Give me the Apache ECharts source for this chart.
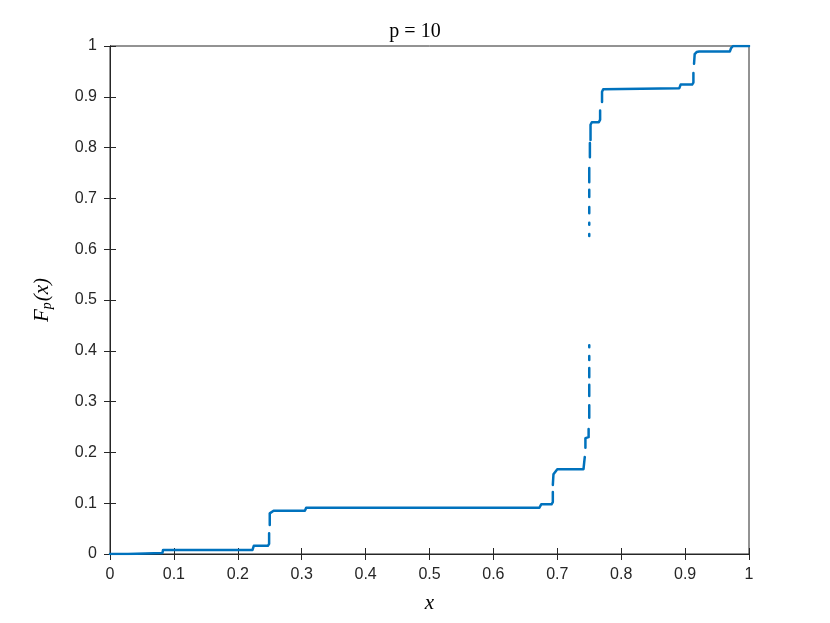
<!DOCTYPE html>
<html>
<head>
<meta charset="utf-8">
<script src="https://cdn.jsdelivr.net/npm/echarts@6/dist/echarts.min.js"></script>
<style>html,body{margin:0;padding:0;background:#fff;}#c{width:830px;height:623px;}</style>
</head>
<body>
<div id="c"></div>
<script>
// Curve samples (null = gap in the drawn curve)
var xs = [0,0.028,0.029,0.082,0.083,0.223,0.225,0.247,0.249,0.249,null,
  0.250,0.250,0.252,0.256,0.305,0.307,0.672,0.675,0.691,0.693,0.693,null,
  0.693,0.694,0.697,0.700,0.741,0.743,0.743,null,
  0.744,0.744,0.746,0.749,0.749,null,
  0.750,0.750,null,0.750,0.750,null,0.750,0.750,null,0.750,0.750,null,0.750,0.750,null,
  0.750,0.750,null,0.750,0.750,null,0.750,0.750,null,0.750,0.750,null,0.750,0.750,null,
  0.751,0.751,null,
  0.752,0.752,0.754,0.765,0.767,0.767,null,
  0.770,0.770,0.772,0.775,0.891,0.893,0.911,0.913,0.913,null,
  0.914,0.915,0.918,0.922,0.970,0.972,0.975,1.0];
var ys = [0,0,0.002,0.002,0.008,0.008,0.016,0.016,0.020,0.041,null,
  0.057,0.080,0.083,0.085,0.085,0.091,0.091,0.098,0.098,0.102,0.122,null,
  0.136,0.157,0.162,0.167,0.167,0.169,0.191,null,
  0.209,0.228,0.230,0.230,0.246,null,
  0.268,0.293,null,0.311,0.333,null,0.348,0.366,null,0.382,0.390,null,0.407,0.411,null,
  0.626,0.630,null,0.648,0.652,null,0.671,0.683,null,0.703,0.717,null,0.732,0.760,null,
  0.781,0.809,null,
  0.815,0.845,0.850,0.850,0.855,0.873,null,
  0.890,0.910,0.915,0.917,0.917,0.924,0.924,0.928,0.947,null,
  0.965,0.984,0.988,0.989,0.989,0.996,1.0,1.0];
var xTicks = [0,0.1,0.2,0.3,0.4,0.5,0.6,0.7,0.8,0.9,1];
var yTicks = [0,0.1,0.2,0.3,0.4,0.5,0.6,0.7,0.8,0.9,1];
var titleText = 'p = 10';

var data = xs.map(function(x,i){
  if (ys[i] === null) return [xs[i-1], '-'];
  return [x, ys[i]];
});

var axisColor = '#262626';
var labelFont = 'Liberation Sans, Arial, sans-serif';
var serif = 'Liberation Serif, DejaVu Serif, serif';
function fmt(v){ return String(+v.toFixed(1)); }

var chart = echarts.init(document.getElementById('c'), null, {renderer:'canvas'});
chart.setOption({
  animation:false,
  backgroundColor:'#fff',
  title:{text:titleText,left:'center',top:17,
    textStyle:{fontFamily:serif,fontSize:20,fontWeight:'normal',color:'#000'}},
  grid:{left:110,right:81,top:46,bottom:69,show:true,borderColor:axisColor,borderWidth:1,backgroundColor:'#fff'},
  xAxis:[{
    type:'value',min:xTicks[0],max:xTicks[xTicks.length-1],interval:0.1,position:'bottom',
    axisLine:{show:true,lineStyle:{color:axisColor,width:1}},
    axisTick:{show:true,inside:true,length:6,lineStyle:{color:axisColor}},
    axisLabel:{color:axisColor,fontFamily:labelFont,fontSize:16,margin:13,formatter:fmt},
    splitLine:{show:false},
    name:'x',nameLocation:'middle',nameGap:39,
    nameTextStyle:{fontFamily:serif,fontStyle:'italic',fontSize:21,color:'#000'}
  },{
    type:'value',min:xTicks[0],max:xTicks[xTicks.length-1],interval:0.1,position:'top',
    axisLine:{show:true,lineStyle:{color:axisColor,width:1}},
    axisTick:{show:true,inside:true,length:6,lineStyle:{color:axisColor}},
    axisLabel:{show:false},splitLine:{show:false}
  }],
  yAxis:[{
    type:'value',min:yTicks[0],max:yTicks[yTicks.length-1],interval:0.1,position:'left',
    axisLine:{show:true,lineStyle:{color:axisColor,width:1}},
    axisTick:{show:true,inside:true,length:6,lineStyle:{color:axisColor}},
    axisLabel:{color:axisColor,fontFamily:labelFont,fontSize:16,margin:13,formatter:fmt},
    splitLine:{show:false},
    name:'{f|F}{s|p}{f|(}{i|x}{f|)}',nameLocation:'middle',nameGap:56,nameRotate:90,
    nameTextStyle:{
      rich:{
        f:{fontFamily:serif,fontStyle:'italic',fontSize:21,color:'#000'},
        i:{fontFamily:serif,fontStyle:'italic',fontSize:21,color:'#000'},
        s:{fontFamily:serif,fontStyle:'italic',fontSize:14,color:'#000',verticalAlign:'bottom',padding:[9,1,0,0]}
      }
    }
  },{
    type:'value',min:yTicks[0],max:yTicks[yTicks.length-1],interval:0.1,position:'right',
    axisLine:{show:true,lineStyle:{color:axisColor,width:1}},
    axisTick:{show:true,inside:true,length:6,lineStyle:{color:axisColor}},
    axisLabel:{show:false},splitLine:{show:false}
  }],
  series:[{
    type:'line',xAxisIndex:0,yAxisIndex:0,data:data,showSymbol:false,connectNulls:false,
    lineStyle:{color:'#0072BD',width:2.5,cap:'round',join:'round'},
    itemStyle:{color:'#0072BD'}
  }]
});
</script>
</body>
</html>
